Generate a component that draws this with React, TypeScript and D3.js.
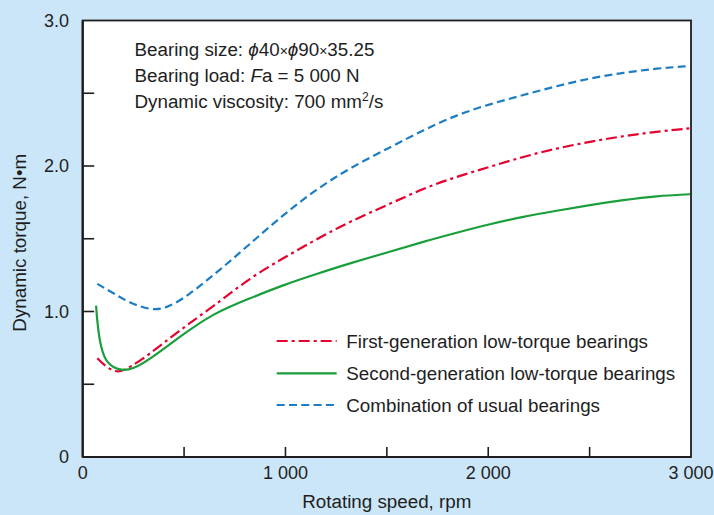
import React from "react";
import * as d3 from "d3";

// ---- data (rpm, N·m) ----
const firstGenSpeed = [72, 118, 175, 233, 315, 479, 644, 825, 989, 1153, 1317, 1515, 1680, 1844, 2009, 2173, 2338, 2502, 2666, 2831, 2995];
const firstGenTorque = [0.679, 0.615, 0.575, 0.618, 0.69, 0.873, 1.034, 1.232, 1.366, 1.497, 1.618, 1.739, 1.847, 1.926, 1.995, 2.064, 2.122, 2.167, 2.206, 2.236, 2.259];

const secondGenSpeed = [66, 72, 80, 90, 104, 122, 150, 200, 250, 315, 479, 644, 825, 989, 1153, 1317, 1515, 1680, 1844, 2009, 2173, 2338, 2502, 2666, 2831, 2995];
const secondGenTorque = [1.04, 0.93, 0.84, 0.76, 0.695, 0.65, 0.615, 0.592, 0.608, 0.655, 0.827, 0.988, 1.091, 1.182, 1.258, 1.331, 1.411, 1.48, 1.542, 1.601, 1.652, 1.693, 1.732, 1.766, 1.794, 1.806];

const usualSpeed = [72, 151, 233, 340, 414, 512, 677, 825, 989, 1153, 1317, 1515, 1680, 1844, 2009, 2173, 2338, 2502, 2666, 2831, 2995];
const usualTorque = [1.19, 1.126, 1.057, 1.008, 1.023, 1.1, 1.286, 1.465, 1.664, 1.841, 1.986, 2.128, 2.247, 2.351, 2.426, 2.488, 2.55, 2.603, 2.641, 2.671, 2.687];

const seriesNames = [
  "First-generation low-torque bearings",
  "Second-generation low-torque bearings",
  "Combination of usual bearings",
];

const xTickValues = [0, 500, 1000, 1500, 2000, 2500, 3000];
const xLabelValues = [0, 1000, 2000, 3000];
const xLabels = ["0", "1 000", "2 000", "3 000"];
const yTickValues = [0, 0.5, 1, 1.5, 2, 2.5, 3];
const yLabelValues = [0, 1, 2, 3];
const yLabels = ["0", "1.0", "2.0", "3.0"];

const W = 714;
const H = 515;
const plot = { left: 82.7, right: 691, top: 20.5, bottom: 457 };

const COLORS = { red: "#e4032e", green: "#1a9e3b", blue: "#1c7dc4", bg: "#cbe6f8", ink: "#1e1e1e" };
const FONT = "'Liberation Sans', Arial, Helvetica, sans-serif";

export default function App() {
  const x = d3.scaleLinear().domain([0, 3000]).range([plot.left, plot.right]);
  const y = d3.scaleLinear().domain([0, 3]).range([plot.bottom, plot.top]);

  const mk = (xs: number[], ys: number[]) =>
    d3
      .line<number>()
      .x((_, i) => x(xs[i]))
      .y((v) => y(v))
      .curve(d3.curveBasis)(ys) as string;

  const series = [
    { path: mk(firstGenSpeed, firstGenTorque), color: COLORS.red, dash: "11,4,3,4", width: 2.2 },
    { path: mk(secondGenSpeed, secondGenTorque), color: COLORS.green, dash: "", width: 2.2 },
    { path: mk(usualSpeed, usualTorque), color: COLORS.blue, dash: "8,4.3", width: 2.2 },
  ];

  const legendY = [341, 373.3, 405];

  return (
    <svg
      width={W}
      height={H}
      style={{ position: "absolute", left: 0, top: 0, display: "block" }}
      fontFamily={FONT}
    >
      <rect x={0} y={0} width={W} height={H} fill={COLORS.bg} />
      <rect
        x={plot.left}
        y={plot.top}
        width={plot.right - plot.left}
        height={plot.bottom - plot.top}
        fill="#fff"
        stroke={COLORS.ink}
        strokeWidth={1.8}
      />
      {/* heavier left & bottom axes */}
      <line x1={plot.left} x2={plot.left} y1={plot.top} y2={plot.bottom} stroke={COLORS.ink} strokeWidth={2.2} />
      <line x1={plot.left} x2={plot.right} y1={plot.bottom} y2={plot.bottom} stroke={COLORS.ink} strokeWidth={2.2} />

      {/* ticks */}
      {yTickValues.slice(1, -1).map((v) => (
        <line key={"yt" + v} x1={plot.left} x2={plot.left + 11.5} y1={y(v)} y2={y(v)} stroke={COLORS.ink} strokeWidth={1.6} />
      ))}
      {xTickValues.slice(1, -1).map((v) => (
        <line key={"xt" + v} x1={x(v)} x2={x(v)} y1={plot.bottom} y2={plot.bottom - 10} stroke={COLORS.ink} strokeWidth={1.6} />
      ))}

      {/* tick labels */}
      {yLabelValues.map((v, i) => (
        <text key={"yl" + v} x={69} y={y(v) + 6} textAnchor="end" fontSize={18} fill={COLORS.ink}>
          {yLabels[i]}
        </text>
      ))}
      {xLabelValues.map((v, i) => (
        <text key={"xl" + v} x={x(v)} y={479} textAnchor="middle" fontSize={18} fill={COLORS.ink}>
          {xLabels[i]}
        </text>
      ))}

      {/* axis titles */}
      <text x={(plot.left + plot.right) / 2} y={508.3} textAnchor="middle" fontSize={18.8} fill={COLORS.ink}>
        Rotating speed, rpm
      </text>
      <text
        transform={`translate(25.5, ${(plot.top + plot.bottom) / 2 + 4}) rotate(-90)`}
        textAnchor="middle"
        fontSize={18.8}
        fill={COLORS.ink}
      >
        Dynamic torque, N•m
      </text>

      {/* curves */}
      <g fill="none">
        {series.map((s, i) => (
          <path key={i} d={s.path} stroke={s.color} strokeWidth={s.width} strokeDasharray={s.dash || undefined} />
        ))}
      </g>

      {/* conditions */}
      <g fontSize={18.8} fill={COLORS.ink}>
        <text x={134.5} y={55.5}>
          Bearing size: <tspan fontStyle="italic">ϕ</tspan>40<tspan fontSize={14}>×</tspan>
          <tspan fontStyle="italic">ϕ</tspan>90<tspan fontSize={14}>×</tspan>35.25
        </text>
        <text x={134.5} y={81.5}>
          Bearing load: <tspan fontStyle="italic">F</tspan>a = 5 000 N
        </text>
        <text x={134.5} y={107.5}>
          Dynamic viscosity: 700 mm<tspan fontSize={12} dy={-7}>2</tspan>
          <tspan dy={7}>/s</tspan>
        </text>
      </g>

      {/* legend */}
      {series.map((s, i) => (
        <g key={"lg" + i}>
          <line
            x1={276.7}
            x2={336.7}
            y1={legendY[i]}
            y2={legendY[i]}
            stroke={s.color}
            strokeWidth={s.width}
            strokeDasharray={s.dash || undefined}
          />
          <text x={346.3} y={legendY[i] + 6.5} fontSize={18.8} fill={COLORS.ink}>
            {seriesNames[i]}
          </text>
        </g>
      ))}
    </svg>
  );
}
